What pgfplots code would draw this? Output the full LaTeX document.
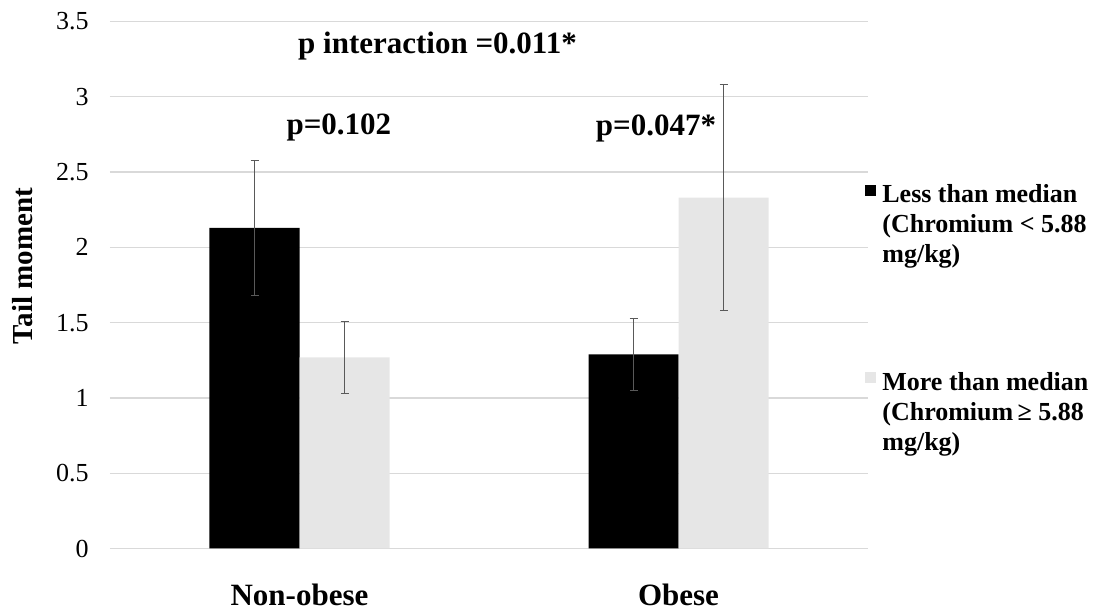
\documentclass[border=0pt]{standalone}
\usepackage{fontspec}
\setmainfont{Liberation Serif}
\usepackage{pgfplots}
\pgfplotsset{compat=1.18}
\definecolor{barGray}{RGB}{230,230,230}
\definecolor{gridGray}{RGB}{217,217,217}
\definecolor{errGray}{RGB}{89,89,89}
\begin{document}
\begin{tikzpicture}
\begin{axis}[name=ax,
  width=379pt, height=263.5pt, scale only axis,
  ybar, bar width=45pt,
  xmin=-0.5, xmax=1.5, ymin=0, ymax=3.5,
  xtick={0,1}, xticklabels={Non-obese,Obese},
  ytick={0,0.5,1,1.5,2,2.5,3,3.5},
  yticklabels={0,0.5,1,1.5,2,2.5,3,3.5},
  axis line style={draw=none},
  major tick style={draw=none},
  ymajorgrids, grid style={gridGray, line width=0.6pt},
  yticklabel style={font=\fontsize{13}{15}\selectfont, anchor=east, inner sep=0pt, xshift=-10.5pt},
  xticklabel style={font=\bfseries\fontsize{15.5}{18}\selectfont, anchor=base, inner sep=0pt, yshift=-24pt},
  ylabel={Tail moment},
  ylabel style={font=\bfseries\fontsize{14.5}{17}\selectfont, at={(axis description cs:-0.1148,0.536)}, anchor=center},
  clip=false,
  error bars/y dir=both, error bars/y explicit,
  error bars/error bar style={errGray, line width=0.5pt},
  error bars/error mark options={rotate=90, mark size=2pt, errGray, line width=0.5pt},
  legend image code/.code={\path (0pt,0pt) (5.5pt,0pt); \fill[#1] (0pt,-2pt) rectangle (5.5pt,-7.5pt);},
  legend style={at={(axis description cs:0.996,0.699)}, anchor=north west,
    draw=none, fill=none, inner sep=0pt,
    font=\bfseries\fontsize{13}{15}\selectfont,
    cells={anchor=north west, align=left, inner sep=0pt},
    row sep=49pt, column sep=1pt},
]
\addplot[fill=black, draw=none, bar shift=-22.5pt] coordinates {(0,2.13) +- (0,0.45) (1,1.29) +- (0,0.24)};
\addlegendentry{Less than median\\(Chromium < 5.88\\mg/kg)}
\addplot[fill=barGray, draw=none, bar shift=22.5pt] coordinates {(0,1.27) +- (0,0.24) (1,2.33) +- (0,0.75)};
\addlegendentry{More than median\\(Chromium\,≥ 5.88\\mg/kg)}
\node[font=\bfseries\fontsize{15.5}{18}\selectfont, anchor=base] at (axis cs:0.364,3.29) {p interaction =0.011*};
\node[font=\bfseries\fontsize{15.5}{18}\selectfont, anchor=base] at (axis cs:0.104,2.75) {p=0.102};
\node[font=\bfseries\fontsize{15.5}{18}\selectfont, anchor=base] at (axis cs:0.9406,2.74) {p=0.047*};
\end{axis}
\pgfresetboundingbox
\path (ax.south west) ++(-55pt,-29.75pt) rectangle ++(551pt,304pt);
\end{tikzpicture}
\end{document}
